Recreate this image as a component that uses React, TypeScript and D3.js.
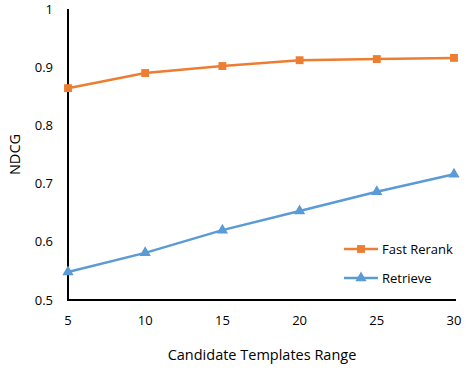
import React from 'react';
import * as d3 from 'd3';

const ranges = [5, 10, 15, 20, 25, 30];
const fastRerank = [0.864, 0.890, 0.902, 0.912, 0.914, 0.916];
const retrieve = [0.548, 0.581, 0.620, 0.653, 0.686, 0.716];
const yTicks = [0.5, 0.6, 0.7, 0.8, 0.9, 1];

const W = 472;
const H = 370;
const left = 68;
const right = 454;
const top = 9;
const bottom = 300;
const font = '"Open Sans", "Noto Sans", sans-serif';

export default function App() {
  const x = d3.scalePoint<number>().domain(ranges).range([left, right]);
  const y = d3.scaleLinear().domain([0.5, 1]).range([bottom, top]);

  const line = d3.line<number>()
    .x((d, i) => x(ranges[i]) as number)
    .y(d => y(d));

  const tri = d3.symbol().type(d3.symbolTriangle).size(55)();
  const sq = d3.symbol().type(d3.symbolSquare).size(62)();

  const series = [
    { name: 'Fast Rerank', values: fastRerank, color: '#ED7D31', marker: sq },
    { name: 'Retrieve', values: retrieve, color: '#5B9BD5', marker: tri },
  ];

  return (
    <svg width={W} height={H} style={{ position: 'absolute', left: 0, top: 0 }} fontFamily={font}>
      <rect width={W} height={H} fill="#fff" />
      {/* axes */}
      <line x1={left} x2={left} y1={top} y2={bottom + 1} stroke="#000" strokeWidth={2} />
      <line x1={left - 1} x2={right + 2} y1={bottom} y2={bottom} stroke="#000" strokeWidth={2} />
      {yTicks.map(t => (
        <text key={t} x={53} y={y(t)} dy="0.35em" textAnchor="end" fontSize={13} fill="#000">{t}</text>
      ))}
      {ranges.map(r => (
        <text key={r} x={x(r)} y={325} textAnchor="middle" fontSize={13} fill="#000">{r}</text>
      ))}
      <text x={262} y={360} textAnchor="middle" fontSize={14.5} fill="#000">Candidate Templates Range</text>
      <text transform={`translate(20,${(top + bottom) / 2}) rotate(-90)`} textAnchor="middle" fontSize={14.5} fill="#000">NDCG</text>
      {series.map(s => (
        <g key={s.name}>
          <path d={line(s.values) || ''} fill="none" stroke={s.color} strokeWidth={2.5} />
          {s.values.map((v, i) => (
            <path key={i} d={s.marker || ''} transform={`translate(${x(ranges[i])},${y(v)})`} fill={s.color} />
          ))}
        </g>
      ))}
      {/* legend */}
      {series.map((s, i) => {
        const ly = 249 + i * 29;
        return (
          <g key={s.name}>
            <line x1={344} x2={378} y1={ly} y2={ly} stroke={s.color} strokeWidth={2.5} />
            <path d={s.marker || ''} transform={`translate(361,${ly})`} fill={s.color} />
            <text x={382} y={ly} dy="0.35em" fontSize={13} fill="#000">{s.name}</text>
          </g>
        );
      })}
    </svg>
  );
}
